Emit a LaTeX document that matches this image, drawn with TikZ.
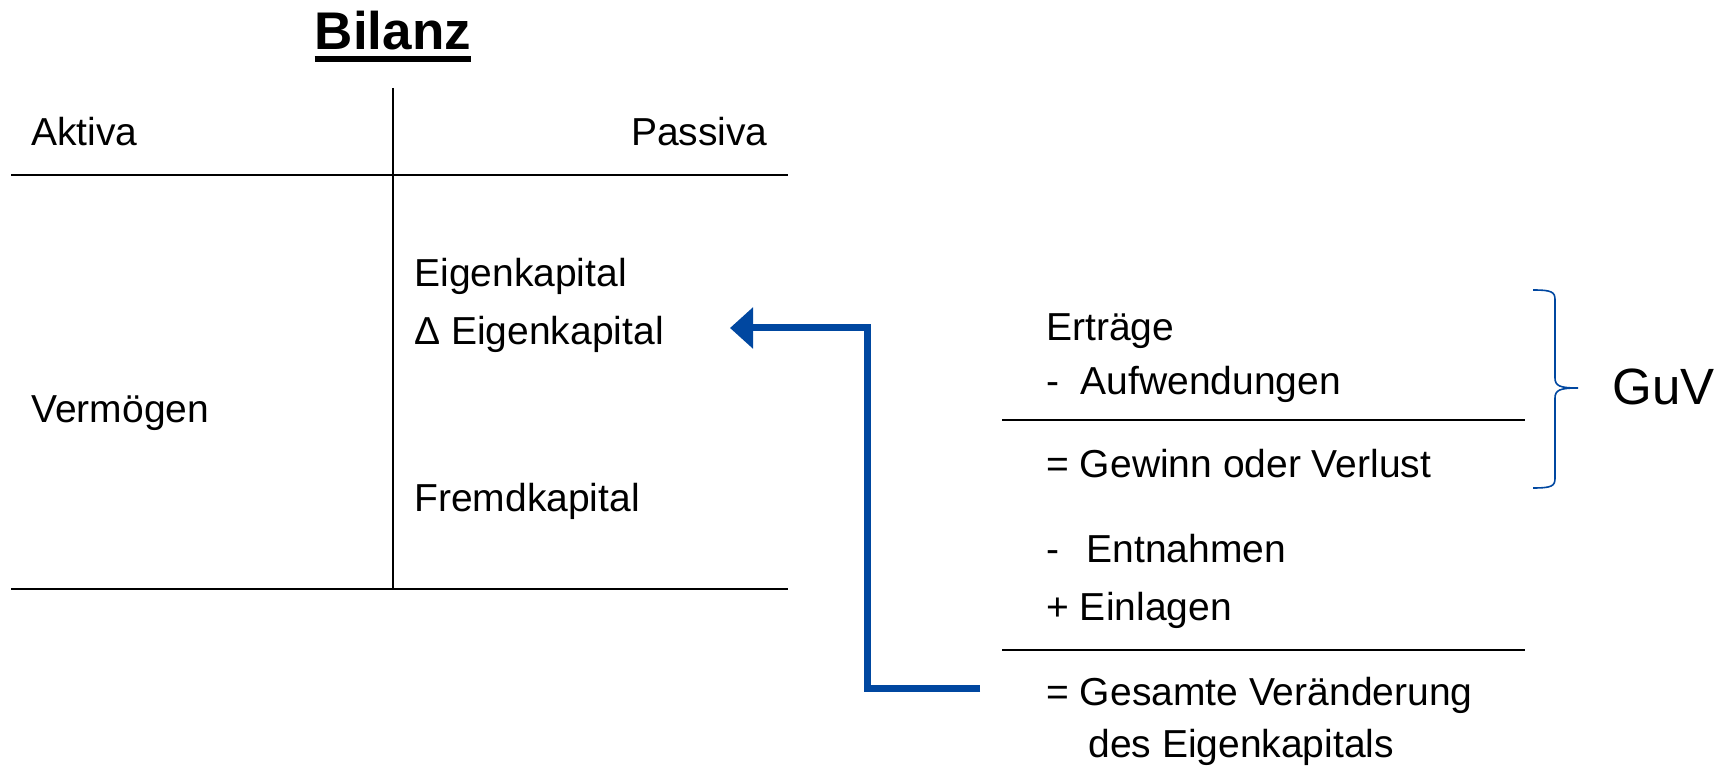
\documentclass[tikz,border=0pt]{standalone}
\usepackage{fontspec}
\setmainfont{Liberation Sans}
\usetikzlibrary{arrows.meta}
\definecolor{guvblue}{RGB}{0,71,160}
\tikzset{
  txt/.style={anchor=base west, inner sep=0pt, font=\fontsize{19.5}{23}\selectfont},
  rule/.style={line width=1.2pt},
  sumrule/.style={line width=1pt},
  flow/.style={guvblue, line width=3.5pt, -{Triangle[length=11.5pt,width=20pt]}},
}
\begin{document}
\begin{tikzpicture}[x=0.5pt, y=-0.5pt]
  \useasboundingbox (0,0) rectangle (1733,769);

  % Title
  \node[anchor=base, inner sep=0pt, font=\fontsize{26.5}{30}\selectfont\bfseries] (title) at (393,50) {Bilanz};
  \draw[line width=2.8pt] ([yshift=-4.5pt]title.base west) -- ([yshift=-4.5pt]title.base east);

  % T-account
  \draw[rule] (393,88) -- (393,589);
  \draw[rule] (11,175) -- (788,175);
  \draw[rule] (11,589) -- (788,589);

  % Left side
  \node[txt] (aktiva) at (31,146) {Aktiva};
  \node[txt] (vermoegen) at (31,423) {Vermögen};
  % Right side
  \node[txt, anchor=base east] (passiva) at (768,146) {Passiva};
  \node[txt] (ek) at (414,287) {Eigenkapital};
  \node[txt] (dek) at (414,345) {Δ Eigenkapital};
  \node[txt] (fk) at (414,511) {Fremdkapital};

  % Calculation
  \node[txt] (ertraege) at (1046,341) {Erträge};
  \node[txt] (aufw) at (1046,395) {-\hspace{0.55em}Aufwendungen};
  \draw[sumrule] (1002,420) -- (1525,420);
  \node[txt] (gewinn) at (1046,478) {= Gewinn oder Verlust};
  \node[txt] (entn) at (1046,562) {-\hspace{0.7em}Entnahmen};
  \node[txt] (einl) at (1046,620) {+ Einlagen};
  \draw[sumrule] (1002,650) -- (1525,650);
  \node[txt] (gesamt) at (1046,705) {= Gesamte Veränderung};
  \node[txt] (gesamtb) at (1088,757) {des Eigenkapitals};

  % Brace
  \draw[guvblue, line width=0.8pt] (1533,290) .. controls (1552,290) and (1555,292) .. (1555,300)
    -- (1555,378) .. controls (1555,386) and (1560,388) .. (1578,388)
    .. controls (1560,388) and (1555,390) .. (1555,398)
    -- (1555,478) .. controls (1555,486) and (1552,488) .. (1533,488);
  \node[anchor=base west, inner sep=0pt, font=\fontsize{25.5}{30}\selectfont] (guv) at (1612,405) {GuV};

  % Arrow
  \coordinate (flowstart) at (980,688);
  \coordinate (flowbend) at (867,328);
  \coordinate (flowtip) at (730,328);
  \draw[flow] (flowstart) -| (flowbend) -- (flowtip);
\end{tikzpicture}
\end{document}
